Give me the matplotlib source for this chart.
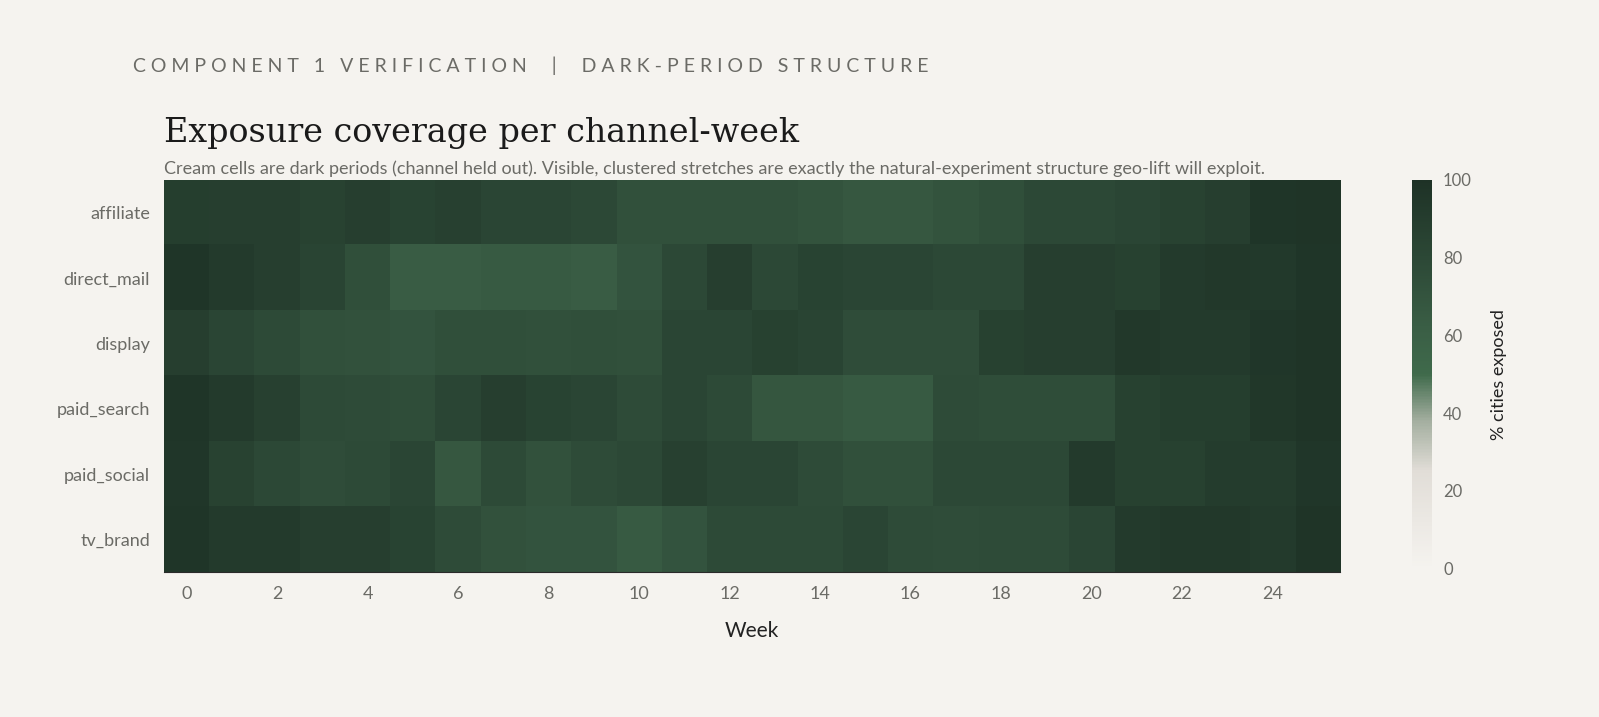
import matplotlib
matplotlib.use("Agg")
import matplotlib.pyplot as plt
import numpy as np
from matplotlib.colors import LinearSegmentedColormap

channels = ["affiliate", "direct_mail", "display", "paid_search", "paid_social", "tv_brand"]
weeks = list(range(26))
affiliate   = [89,88,88,85,88,84,87,82,82,80,73,73,73,73,71,67,67,71,74,80,80,82,85,88,97,98]
direct_mail = [97,92,88,83,74,63,63,65,65,63,70,79,88,80,84,82,82,80,80,88,88,86,92,94,93,97]
display     = [88,82,78,73,72,70,74,74,73,74,73,82,82,86,83,76,76,76,86,88,88,94,92,92,96,98]
paid_search = [97,92,87,78,77,75,82,88,84,82,77,82,78,68,68,65,65,77,75,75,75,86,89,89,95,98]
paid_social = [96,85,80,76,78,82,67,78,72,77,79,87,82,82,77,73,73,80,80,80,92,86,86,90,90,96]
tv_brand    = [97,92,92,88,88,84,77,72,70,70,65,70,78,78,78,82,77,76,77,77,82,92,94,94,92,98]
data = np.array([affiliate, direct_mail, display, paid_search, paid_social, tv_brand])

bg = "#f5f3ef"
cmap = LinearSegmentedColormap.from_list("c", [(0, "#f5f3ef"), (0.25, "#e1ddd7"), (0.38, "#a3ae9f"),
                                               (0.5, "#3f6a4b"), (0.62, "#3a5e45"), (0.8, "#2c4836"), (1, "#1e3226")])

fig = plt.figure(figsize=(15.99, 7.17), dpi=100, facecolor=bg)
ax = fig.add_axes([0.1026, 0.202, 0.7355, 0.547])
ax.set_facecolor(bg)
im = ax.imshow(data, cmap=cmap, vmin=0, vmax=100, aspect="auto", interpolation="nearest")
ax.set_yticks(range(len(channels)))
ax.set_yticklabels(channels)
ax.set_xticks(range(0, 26, 2))
ax.tick_params(length=0, labelsize=13, colors="#6b6b66", pad=10)
for s in ["top", "right", "left"]:
    ax.spines[s].set_visible(False)
ax.spines["bottom"].set_color("#2a2a2a")
ax.set_xlabel("Week", fontsize=15, color="#222222", labelpad=14, family="Lato")
for t in ax.get_xticklabels() + ax.get_yticklabels():
    t.set_family("Lato")

cax = fig.add_axes([0.883, 0.207, 0.0125, 0.542])
cb = fig.colorbar(im, cax=cax)
cb.outline.set_visible(False)
cb.set_ticks([0, 20, 40, 60, 80, 100])
cax.tick_params(length=0, labelsize=12, colors="#6b6b66", pad=8)
for t in cax.get_yticklabels():
    t.set_family("Lato")
cb.set_label("% cities exposed", fontsize=13, color="#222222", family="Lato", labelpad=14)

fig.text(0.083, 0.908, "COMPONENT 1 VERIFICATION  |  DARK-PERIOD STRUCTURE".replace("", " ").strip(),
         fontsize=14, color="#6b6b66", family="Lato", va="center")
fig.text(0.1026, 0.815, "Exposure coverage per channel-week", fontsize=24, color="#1a1a1a",
         family="DejaVu Serif", va="center")
fig.text(0.1026, 0.765, "Cream cells are dark periods (channel held out). Visible, clustered stretches are exactly the natural-experiment structure geo-lift will exploit.",
         fontsize=13, color="#6b6b66", family="Lato", va="center")

fig.savefig("out.png", dpi=100, facecolor=bg)
